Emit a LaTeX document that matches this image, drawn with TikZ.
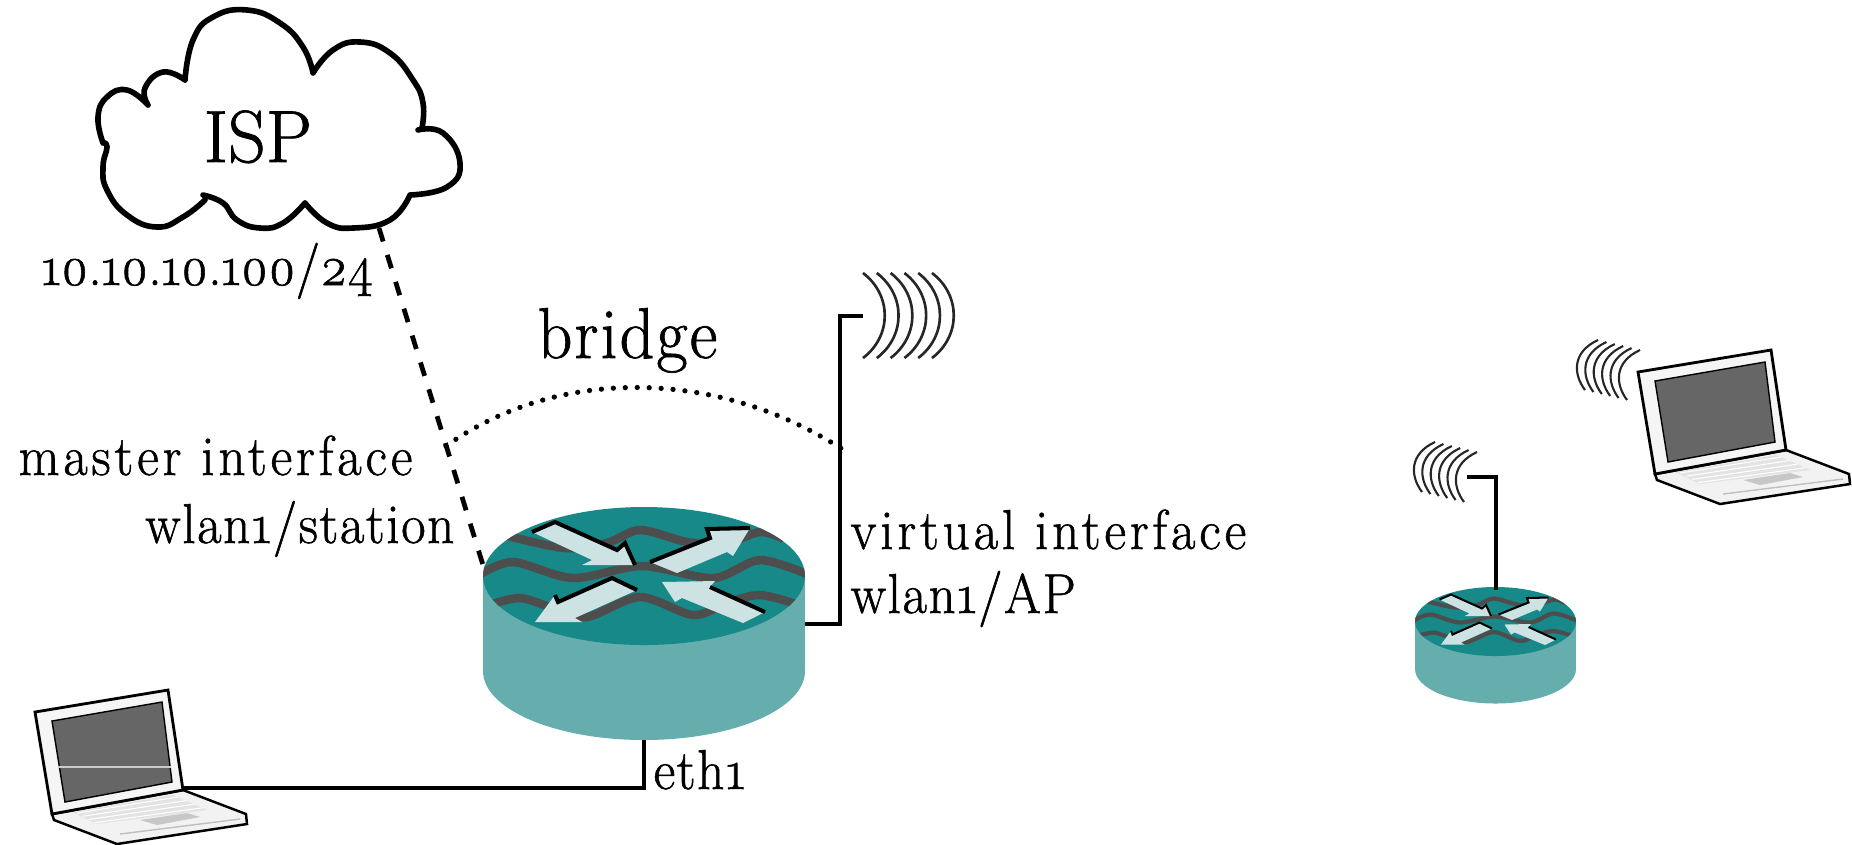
\documentclass[tikz,border=0pt]{standalone}
\usepackage{fontspec}
\usepackage{xcolor}
\newfontfamily\labelfont[Numbers=OldStyle,LetterSpace=3,FakeBold=1,FakeStretch=0.94]{Latin Modern Roman}
\newfontfamily\widefont[Numbers=OldStyle,LetterSpace=7,FakeBold=1,FakeStretch=0.94]{Latin Modern Roman}
\newfontfamily\tightfont[Numbers=OldStyle,FakeBold=1,FakeStretch=0.937]{Latin Modern Roman}
\newfontfamily\ispfont[FakeBold=1]{Latin Modern Roman}
\definecolor{routertop}{HTML}{178989}
\definecolor{routerside}{HTML}{66ADAD}
\definecolor{routerarrow}{HTML}{CDE3E3}
\definecolor{routerwave}{HTML}{4D4D4D}
\tikzset{
  lbl/.style={font=\labelfont\fontsize{16}{18}\selectfont, anchor=base west, inner sep=0pt},
  lblwide/.style={lbl, font=\widefont\fontsize{16}{18}\selectfont},
  lblr/.style={lbl, anchor=base east},
  wire/.style={black, line width=1.35pt},
  airwave/.style={black!85, line width=0.6pt},
  pics/router/.style={code={
    \begin{scope}[scale=#1, edge/.style={black, line width=#1*1.15pt}, ripple/.style={routerwave, line width=#1*2.4pt}]
      \fill[routerside] (-161,0) rectangle (161,95);
      \fill[routerside] (0,95) ellipse [x radius=161, y radius=69];
      \fill[routertop] (0,0) ellipse [x radius=161, y radius=69];
      \begin{scope}
        \clip (0,0) ellipse [x radius=161, y radius=69];
        \draw[ripple] plot[smooth] coordinates {(-165,-1) (-131,-14) (-71,2) (-2,-10) (69,2) (116,-16) (165,-1)};
        \draw[ripple] plot[smooth] coordinates {(-140,-41) (-80,-28) (-37,-33) (-4,-46) (43,-34) (80,-32) (116,-44) (140,-37)};
        \draw[ripple] plot[smooth] coordinates {(-155,29) (-124,22) (-91,32) (-57,41) (-4,21) (49,39) (83,27) (116,19) (155,29)};
      \end{scope}
      % arrows: fill first, black edge on top
      \fill[routerarrow] (-112,-44) -- (-89,-54) -- (-27,-26) -- (-19,-33) -- (-9,-11) -- (-62,-11) -- (-52,-16) -- cycle;
      \draw[edge] (-112,-44) -- (-89,-54) -- (-27,-26) -- (-19,-33) -- (-9,-11);
      \fill[routerarrow] (6,-14) -- (66,-38) -- (63,-47) -- (106,-48) -- (89,-20) -- (83,-24) -- (33,-3) -- cycle;
      \draw[edge] (6,-14) -- (66,-38) -- (63,-47) -- (106,-48);
      \fill[routerarrow] (-109,46) -- (-89,19) -- (-86,26) -- (-32,2) -- (-7,14) -- (-69,42) -- (-62,46) -- cycle;
      \draw[edge] (-7,14) -- (-32,2) -- (-86,26) -- (-89,19);
      \fill[routerarrow] (18,6) -- (31,26) -- (38,22) -- (99,47) -- (121,36) -- (66,11) -- (71,5) -- cycle;
      \draw[edge] (121,36) -- (66,11);
    \end{scope}
  }},
  pics/laptop/.style={code={
    \filldraw[black, line width=0.7pt, fill=black!5] (17,102) -- (19,108) -- (82,132) -- (212,112) -- (211,102) -- (148,78) -- cycle;
    \fill[black!11] (37,100) -- (138,83) -- (172,98) -- (62,112) -- cycle;
    \foreach \r in {0,1,2,3}
      \draw[white, line width=0.3pt] (42+\r*6,101+\r*3.2) -- (143+\r*8,85+\r*3.6);
    \fill[black!22] (105,108) -- (152,101) -- (165,105) -- (122,113) -- cycle;
    \draw[black!25, line width=0.4pt] (85,122) -- (205,107);
    \filldraw[black, line width=0.8pt, fill=black!4] (0,0) -- (133,-22) -- (148,78) -- (17,102) -- cycle;
    \filldraw[black, line width=0.4pt, fill=black!60] (17,9) -- (127,-10) -- (137,70) -- (30,90) -- cycle;
  }},
  pics/radiosmall/.style={code={
    \foreach \k in {0,...,5}
      \draw[airwave] (\k*8.4,\k*2) .. controls (\k*8.4-26,\k*2+12) and (\k*8.4-25,\k*2+34) .. (\k*8.4-13,\k*2+50);
  }}
}
\begin{document}
\begin{tikzpicture}[x=0.01cm,y=-0.01cm]
  \useasboundingbox (0,0) rectangle (1852,844);
  % ports
  \coordinate (ispport) at (379,228);
  \coordinate (bigmaster) at (483,565);
  \coordinate (bigeast) at (805,624);
  \coordinate (bigsouth) at (644,740);
  \coordinate (lapport) at (183,788);
  \coordinate (antknee) at (840,316);
  \coordinate (anttip) at (863,316);
  \coordinate (smalltop) at (1496,590);
  \coordinate (smallknee) at (1496,477);
  \coordinate (smalltip) at (1467,477);
  \coordinate (bridgeleft) at (446,446);
  \coordinate (bridgeright) at (842,449);
  % devices
  \pic at (644,576) {router=1};
  \pic at (1495.5,621.5) {router=0.5};
  \pic at (35,712) {laptop};
  \pic at (1638,372) {laptop};
  \draw[black!20, line width=0.3pt] (58,767) -- (171,767);
  % cloud
  \draw[black, line width=1.6pt, line cap=round, line join=round]
    plot[smooth, tension=0.8] coordinates {(103,143) (98,117) (107,97) (127,90) (148,105)}
    plot[smooth, tension=0.8] coordinates {(148,105) (145,88) (163,72) (185,80)}
    plot[smooth, tension=0.8] coordinates {(185,80) (193,40) (213,17) (247,10) (280,23) (303,47) (313,73)}
    plot[smooth, tension=0.8] coordinates {(313,73) (333,50) (360,42) (390,53) (413,80) (423,103) (422,128)}
    plot[smooth, tension=0.8] coordinates {(418,130) (443,133) (460,163) (447,187) (410,195)}
    plot[smooth, tension=0.8] coordinates {(410,195) (390,220) (353,228) (327,223) (305,203)}
    plot[smooth, tension=0.8] coordinates {(305,203) (283,223) (260,228) (237,220) (223,203) (203,195)}
    plot[smooth, tension=0.8] coordinates {(205,200) (183,217) (157,227) (127,215) (107,190) (103,167) (107,147) (103,143)};
  % links
  \draw[wire, dash pattern=on 4pt off 4pt] (ispport) -- (bigmaster);
  \draw[black, line width=1.5pt, line cap=round, dash pattern=on 0pt off 3.4pt] (bridgeleft) .. controls (560,365) and (720,370) .. (bridgeright);
  \draw[wire] (bigeast) -| (antknee) -- (anttip);
  \draw[wire] (lapport) -| (bigsouth);
  \draw[wire] (smalltop) -- (smallknee) -- (smalltip);
  % radio waves
  \foreach \k in {0,...,5}
    \draw[airwave, line width=0.75pt] (863+\k*13.8,273) .. controls (863+\k*13.8+29,295) and (863+\k*13.8+29,336) .. (863+\k*13.8,358);
  \pic at (1435,442) {radiosmall};
  \pic at (1598,340) {radiosmall};
  % labels
  \node[font=\ispfont\fontsize{21}{24}\selectfont, inner sep=0pt, anchor=base] (isp) at (258,162) {ISP};
  \node[lbl, font=\tightfont\fontsize{16}{18}\selectfont] (addr) at (41,285) {10.10.10.100/24};
  \node[lbl, font=\labelfont\fontsize{20.5}{24}\selectfont] (bridge) at (537,358) {bridge};
  \node[lblwide] (master) at (18,475) {master interface};
  \node[lblr] (station) at (455,543) {wlan1/station};
  \node[lblwide] (virtual) at (850,549) {virtual interface};
  \node[lbl] (ap) at (850,613) {wlan1/AP};
  \node[lbl] (eth) at (653,789) {eth1};
\end{tikzpicture}
\end{document}
